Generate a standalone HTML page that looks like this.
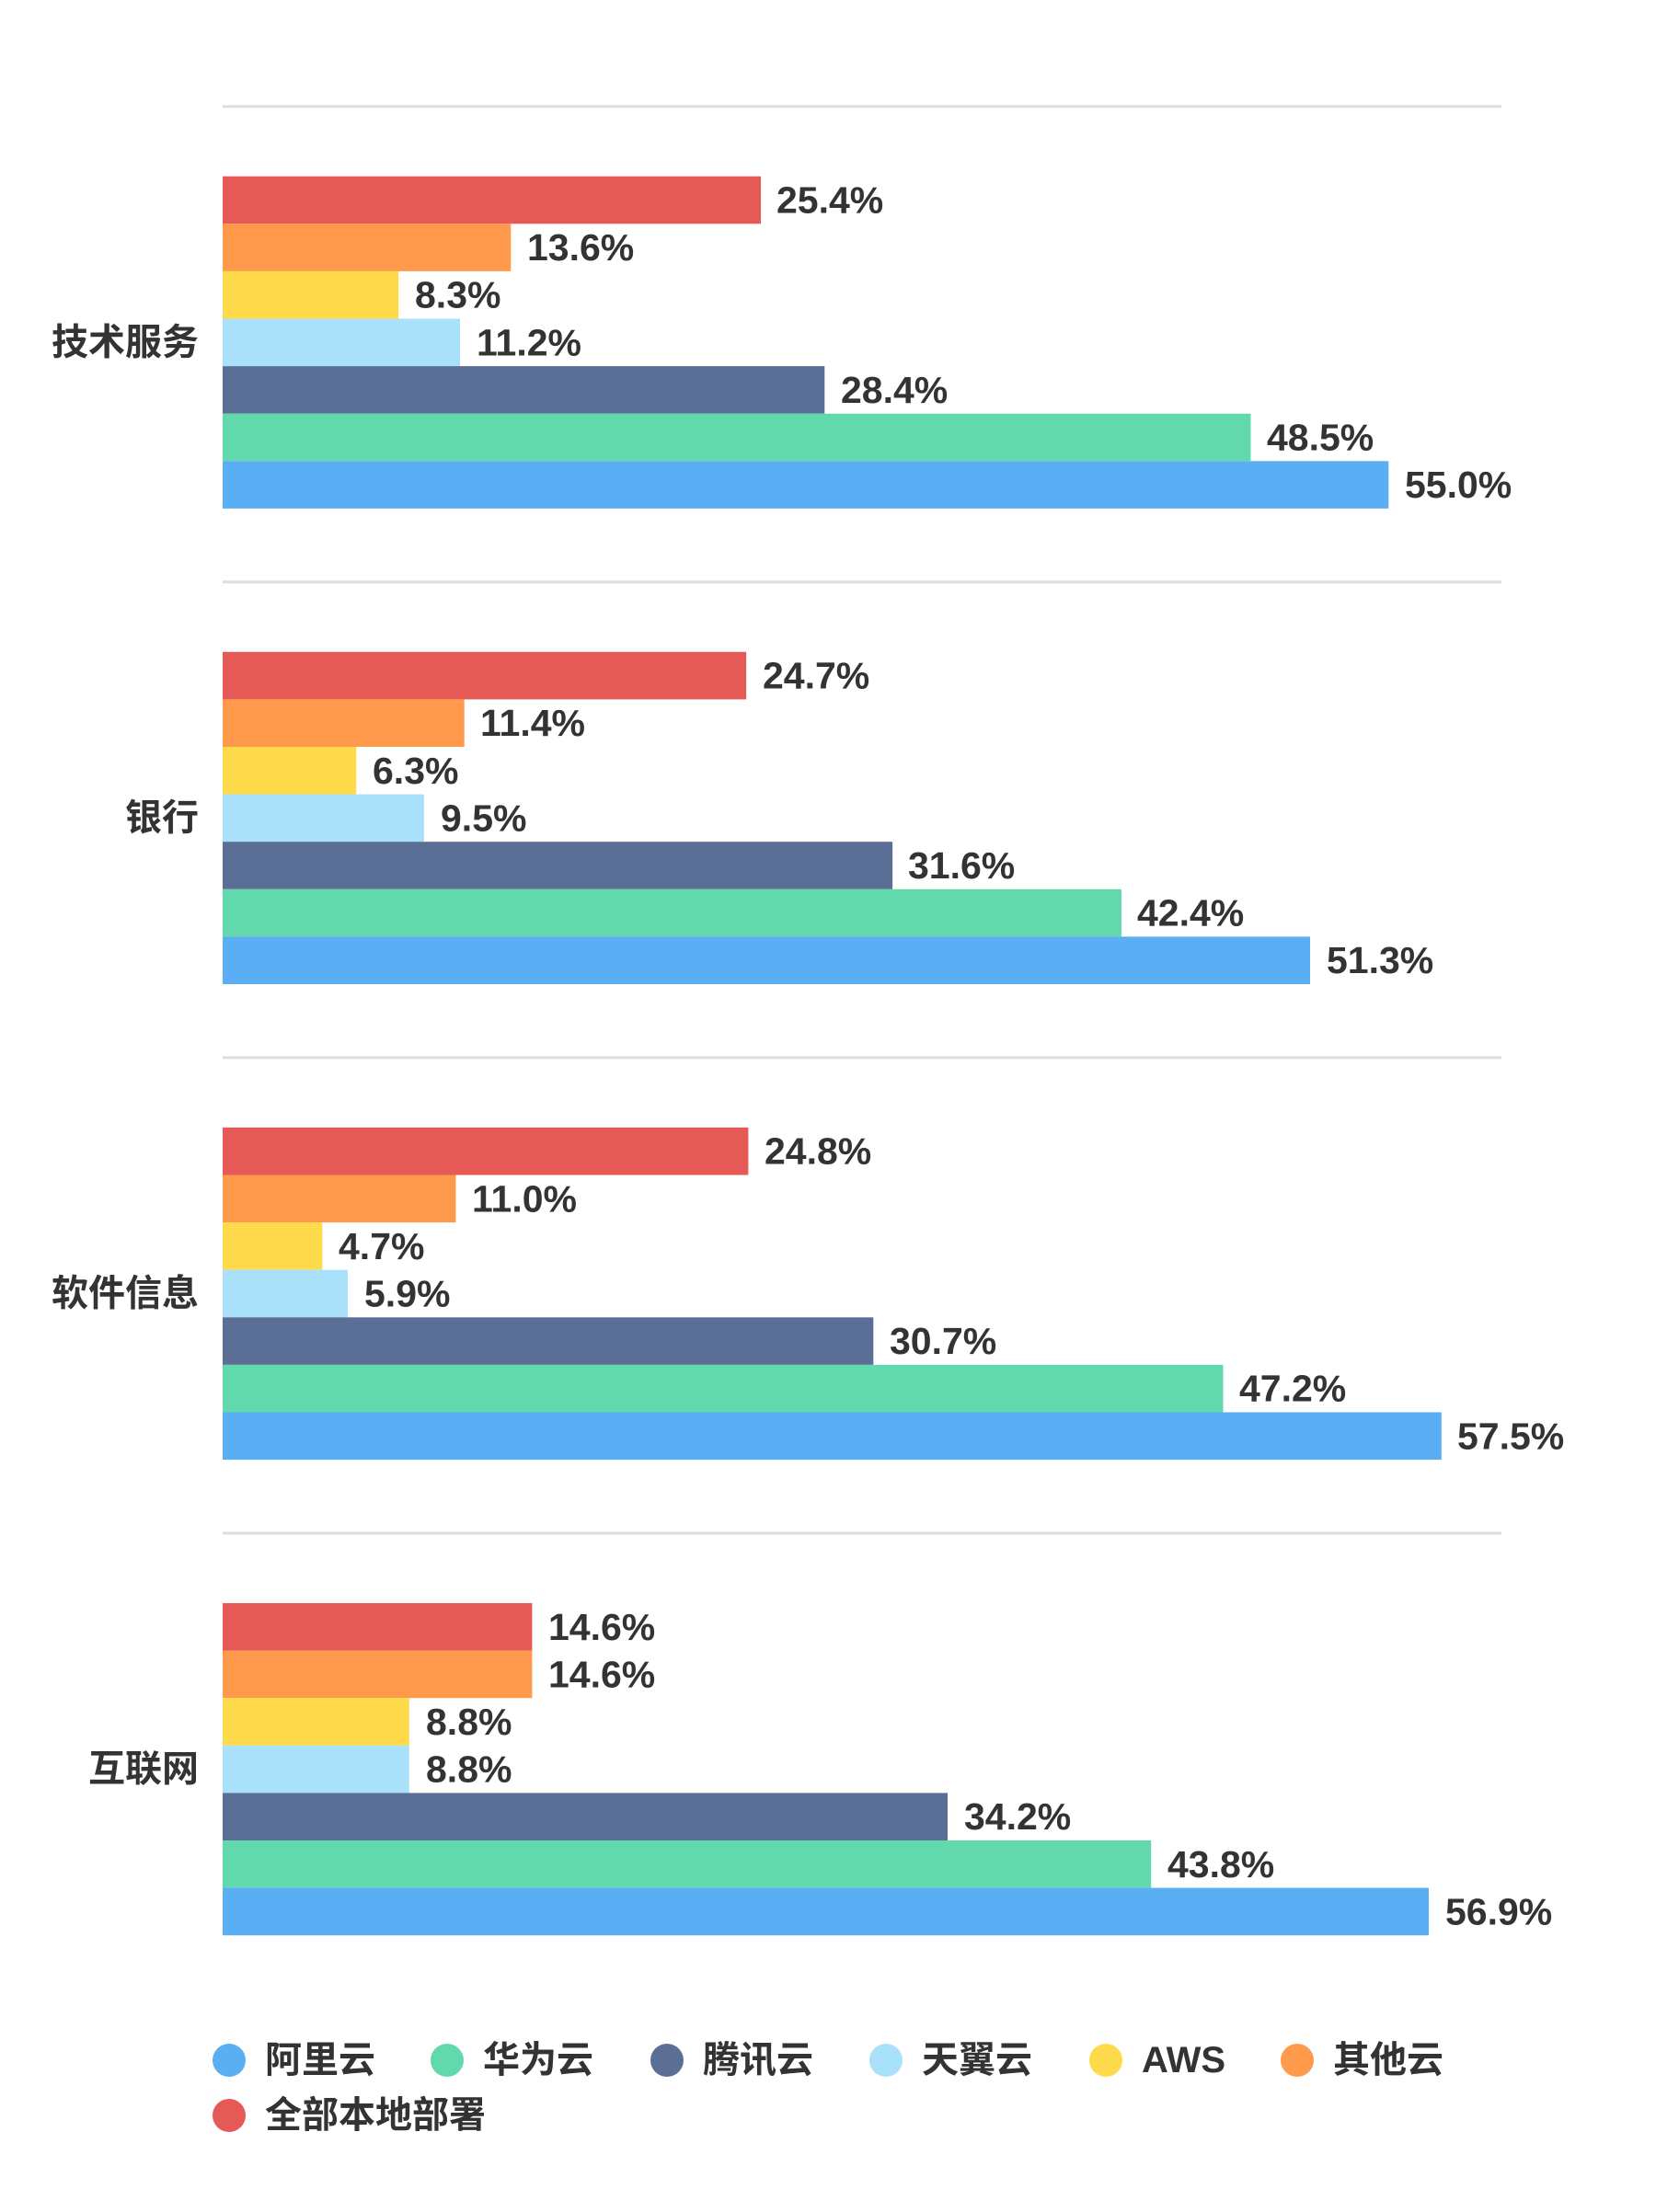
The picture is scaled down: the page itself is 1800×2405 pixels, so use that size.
<!DOCTYPE html>
<html><head><meta charset="utf-8"><style>
html,body{margin:0;padding:0;background:#fff;}
svg text{font-family:"Liberation Sans","Noto Sans CJK SC",sans-serif;font-weight:bold;fill:#333;}
</style></head><body>
<svg width="1800" height="2400" xmlns="http://www.w3.org/2000/svg">
<g transform="translate(0,3)">
<g stroke="#dddddd" stroke-width="3">
<line x1="242" x2="1632" y1="112.7" y2="112.7"/>
<line x1="242" x2="1632" y1="629.8" y2="629.8"/>
<line x1="242" x2="1632" y1="1146.9" y2="1146.9"/>
<line x1="242" x2="1632" y1="1664" y2="1664"/>
</g>
<!-- group 1 -->
<g>
<rect x="242" y="188.7" width="585" height="51.6" fill="#E55A56"/>
<rect x="242" y="240.3" width="313.3" height="51.6" fill="#FF9A4D"/>
<rect x="242" y="291.9" width="191.2" height="51.6" fill="#FFDA4A"/>
<rect x="242" y="343.5" width="258" height="51.6" fill="#A9E0FA"/>
<rect x="242" y="395.1" width="654.3" height="51.6" fill="#5B6E96"/>
<rect x="242" y="446.7" width="1117.5" height="51.6" fill="#62D9AD"/>
<rect x="242" y="498.3" width="1267.3" height="51.6" fill="#5AAEF3"/>
<g font-size="41" dominant-baseline="central">
<text x="844" y="214.5">25.4%</text>
<text x="573" y="266.1">13.6%</text>
<text x="451" y="317.7">8.3%</text>
<text x="518" y="369.3">11.2%</text>
<text x="914" y="420.9">28.4%</text>
<text x="1377" y="472.5">48.5%</text>
<text x="1527" y="524.1">55.0%</text>
</g>
<text x="216" y="369.3" font-size="40" text-anchor="end" dominant-baseline="central">技术服务</text>
</g>
<!-- group 2 -->
<g transform="translate(0,517.1)">
<rect x="242" y="188.7" width="569.1" height="51.6" fill="#E55A56"/>
<rect x="242" y="240.3" width="262.7" height="51.6" fill="#FF9A4D"/>
<rect x="242" y="291.9" width="145.2" height="51.6" fill="#FFDA4A"/>
<rect x="242" y="343.5" width="218.9" height="51.6" fill="#A9E0FA"/>
<rect x="242" y="395.1" width="728.1" height="51.6" fill="#5B6E96"/>
<rect x="242" y="446.7" width="976.9" height="51.6" fill="#62D9AD"/>
<rect x="242" y="498.3" width="1182" height="51.6" fill="#5AAEF3"/>
<g font-size="41" dominant-baseline="central">
<text x="829" y="214.5">24.7%</text>
<text x="522" y="266.1">11.4%</text>
<text x="405" y="317.7">6.3%</text>
<text x="479" y="369.3">9.5%</text>
<text x="987" y="420.9">31.6%</text>
<text x="1236" y="472.5">42.4%</text>
<text x="1442" y="524.1">51.3%</text>
</g>
<text x="216" y="369.3" font-size="40" text-anchor="end" dominant-baseline="central">银行</text>
</g>
<!-- group 3 -->
<g transform="translate(0,1034.2)">
<rect x="242" y="188.7" width="571.4" height="51.6" fill="#E55A56"/>
<rect x="242" y="240.3" width="253.4" height="51.6" fill="#FF9A4D"/>
<rect x="242" y="291.9" width="108.3" height="51.6" fill="#FFDA4A"/>
<rect x="242" y="343.5" width="135.9" height="51.6" fill="#A9E0FA"/>
<rect x="242" y="395.1" width="707.3" height="51.6" fill="#5B6E96"/>
<rect x="242" y="446.7" width="1087.5" height="51.6" fill="#62D9AD"/>
<rect x="242" y="498.3" width="1324.8" height="51.6" fill="#5AAEF3"/>
<g font-size="41" dominant-baseline="central">
<text x="831" y="214.5">24.8%</text>
<text x="513" y="266.1">11.0%</text>
<text x="368" y="317.7">4.7%</text>
<text x="396" y="369.3">5.9%</text>
<text x="967" y="420.9">30.7%</text>
<text x="1347" y="472.5">47.2%</text>
<text x="1584" y="524.1">57.5%</text>
</g>
<text x="216" y="369.3" font-size="40" text-anchor="end" dominant-baseline="central">软件信息</text>
</g>
<!-- group 4 -->
<g transform="translate(0,1551.3)">
<rect x="242" y="188.7" width="336.4" height="51.6" fill="#E55A56"/>
<rect x="242" y="240.3" width="336.4" height="51.6" fill="#FF9A4D"/>
<rect x="242" y="291.9" width="202.8" height="51.6" fill="#FFDA4A"/>
<rect x="242" y="343.5" width="202.8" height="51.6" fill="#A9E0FA"/>
<rect x="242" y="395.1" width="788" height="51.6" fill="#5B6E96"/>
<rect x="242" y="446.7" width="1009.2" height="51.6" fill="#62D9AD"/>
<rect x="242" y="498.3" width="1311" height="51.6" fill="#5AAEF3"/>
<g font-size="41" dominant-baseline="central">
<text x="596" y="214.5">14.6%</text>
<text x="596" y="266.1">14.6%</text>
<text x="463" y="317.7">8.8%</text>
<text x="463" y="369.3">8.8%</text>
<text x="1048" y="420.9">34.2%</text>
<text x="1269" y="472.5">43.8%</text>
<text x="1571" y="524.1">56.9%</text>
</g>
<text x="216" y="369.3" font-size="40" text-anchor="end" dominant-baseline="central">互联网</text>
</g>
<!-- legend -->
<g font-size="40" dominant-baseline="central">
<circle cx="249" cy="2237" r="18" fill="#5AAEF3"/><text x="288" y="2237">阿里云</text>
<circle cx="486" cy="2237" r="18" fill="#62D9AD"/><text x="525" y="2237">华为云</text>
<circle cx="725" cy="2237" r="18" fill="#5B6E96"/><text x="764" y="2237">腾讯云</text>
<circle cx="963" cy="2237" r="18" fill="#A9E0FA"/><text x="1002" y="2237">天翼云</text>
<circle cx="1202" cy="2237" r="18" fill="#FFDA4A"/><text x="1241" y="2237">AWS</text>
<circle cx="1410" cy="2237" r="18" fill="#FF9A4D"/><text x="1449" y="2237">其他云</text>
<circle cx="249" cy="2297" r="18" fill="#E55A56"/><text x="288" y="2297">全部本地部署</text>
</g>
</g>
</svg>
</body></html>
